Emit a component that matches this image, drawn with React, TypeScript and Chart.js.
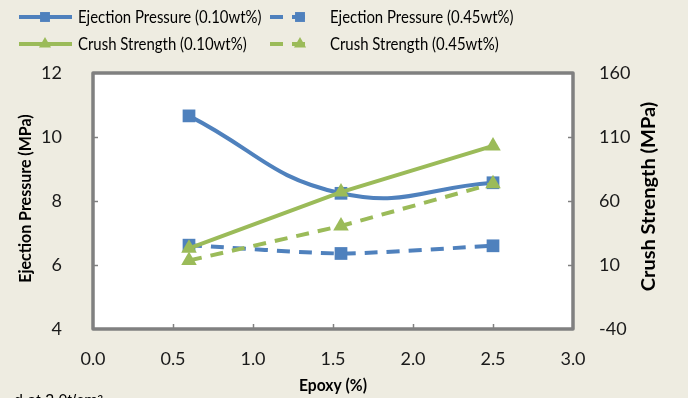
import React, { useEffect, useRef } from "react";
import { Chart, registerables } from "chart.js";

Chart.register(...registerables);

// ---- data ----
const epoxy = [0.6, 1.55, 2.5];
const ejection010 = [10.66, 8.24, 8.57];
const ejection045 = [6.62, 6.36, 6.6];
const crush010 = [23, 67, 103];
const crush045 = [13.5, 40.5, 73.5];
const seriesLabels = [
  "Ejection Pressure (0.10wt%)",
  "Ejection Pressure (0.45wt%)",
  "Crush Strength (0.10wt%)",
  "Crush Strength (0.45wt%)",
];
const xTitle = "Epoxy (%)";
const yLeftTitle = "Ejection Pressure (MPa)";
const yRightTitle = "Crush Strength (MPa)";
const footnote = "d at 2.0t/cm\u00b2";

const BLUE = "#4f81bd";
const GREEN = "#9bbb59";
const BG = "#eeece1";
const FONT = "Lato";

function pts(ys: number[]) {
  return epoxy.map((x, i) => ({ x, y: ys[i] }));
}

function drawText(
  ctx: CanvasRenderingContext2D,
  text: string,
  x: number,
  y: number,
  font: string,
  align: CanvasTextAlign,
  sx: number,
  rot = 0
) {
  ctx.save();
  ctx.translate(x, y);
  if (rot) ctx.rotate(rot);
  ctx.scale(sx, 1);
  ctx.font = font;
  ctx.fillStyle = "#000";
  ctx.textAlign = align;
  ctx.textBaseline = "middle";
  ctx.fillText(text, 0, 0);
  ctx.restore();
}

const decorPlugin = {
  id: "decor",
  beforeDraw(chart: any) {
    const { ctx, chartArea: a, width, height } = chart;
    ctx.save();
    ctx.fillStyle = BG;
    ctx.fillRect(0, 0, width, height);
    ctx.fillStyle = "#fff";
    ctx.fillRect(a.left, a.top, a.right - a.left, a.bottom - a.top);
    ctx.restore();
  },
  beforeDatasetsDraw(chart: any) {
    const { ctx, chartArea: a, scales } = chart;
    ctx.save();
    ctx.strokeStyle = "#808080";
    ctx.lineWidth = 1.5;
    const L = 5;
    scales.x.ticks.forEach((t: any) => {
      if (t.value <= 0 || t.value >= 3) return;
      const px = Math.round(scales.x.getPixelForValue(t.value)) + 0.5;
      ctx.beginPath();
      ctx.moveTo(px, a.bottom);
      ctx.lineTo(px, a.bottom - L);
      ctx.stroke();
    });
    scales.y.ticks.forEach((t: any) => {
      if (t.value <= 4 || t.value >= 12) return;
      const py = Math.round(scales.y.getPixelForValue(t.value)) + 0.5;
      ctx.beginPath();
      ctx.moveTo(a.left, py);
      ctx.lineTo(a.left + L, py);
      ctx.stroke();
    });
    scales.y1.ticks.forEach((t: any) => {
      if (t.value <= -40 || t.value >= 160) return;
      const py = Math.round(scales.y1.getPixelForValue(t.value)) + 0.5;
      ctx.beginPath();
      ctx.moveTo(a.right, py);
      ctx.lineTo(a.right - L, py);
      ctx.stroke();
    });
    ctx.strokeStyle = "#808080";
    ctx.lineWidth = 3.5;
    ctx.lineJoin = "round";
    ctx.strokeRect(a.left, a.top, a.right - a.left, a.bottom - a.top);
    ctx.restore();
  },
  afterDraw(chart: any) {
    const { ctx, chartArea: a, data } = chart;
    const cx = (a.left + a.right) / 2;
    drawText(ctx, xTitle, cx, 386, `bold 17px ${FONT}`, "center", 0.92);
    drawText(ctx, yLeftTitle, 26, 198.5, `bold 17px ${FONT}`, "center", 0.94, -Math.PI / 2);
    drawText(ctx, yRightTitle, 649, 196.5, `bold 19px ${FONT}`, "center", 1.05, -Math.PI / 2);

    // legend
    const legFont = `18px ${FONT}`;
    const items = [
      { ds: data.datasets[0], x0: 19, x1: 72, mx: 45, tx: 78, y: 17 },
      { ds: data.datasets[1], x0: 270, x1: 312, mx: 300, tx: 330, y: 17 },
      { ds: data.datasets[2], x0: 19, x1: 72, mx: 45, tx: 78, y: 44 },
      { ds: data.datasets[3], x0: 270, x1: 312, mx: 300, tx: 330, y: 44 },
    ];
    items.forEach((it) => {
      const ds = it.ds;
      ctx.save();
      ctx.strokeStyle = ds.borderColor;
      ctx.lineWidth = ds.borderWidth;
      ctx.setLineDash(ds.borderDash || []);
      ctx.beginPath();
      ctx.moveTo(it.x0, it.y);
      ctx.lineTo(it.x1, it.y);
      ctx.stroke();
      ctx.setLineDash([]);
      ctx.fillStyle = ds.pointBackgroundColor;
      const r = 7;
      ctx.beginPath();
      if (ds.pointStyle === "rect") {
        const s = r * Math.SQRT1_2;
        ctx.rect(it.mx - s, it.y - s, 2 * s, 2 * s);
      } else {
        ctx.moveTo(it.mx, it.y - r);
        ctx.lineTo(it.mx + r * 0.866, it.y + r * 0.5);
        ctx.lineTo(it.mx - r * 0.866, it.y + r * 0.5);
        ctx.closePath();
      }
      ctx.fill();
      ctx.restore();
      drawText(ctx, ds.label, it.tx, it.y, legFont, "left", 0.83);
    });

    // clipped footnote
    ctx.save();
    ctx.font = `16px "Liberation Sans"`;
    ctx.fillStyle = "#000";
    ctx.textAlign = "left";
    ctx.textBaseline = "alphabetic";
    ctx.fillText(footnote, 14, 406);
    ctx.restore();
  },
};

export default function App() {
  const ref = useRef<HTMLCanvasElement | null>(null);
  useEffect(() => {
    document.body.style.margin = "0";
    const canvas = ref.current;
    if (!canvas) return;
    const tickFont = { family: FONT, size: 18 };
    const chart = new Chart(canvas, {
      type: "line",
      data: {
        datasets: [
          {
            label: seriesLabels[0],
            data: pts(ejection010),
            yAxisID: "y",
            borderColor: BLUE,
            backgroundColor: BLUE,
            pointBackgroundColor: BLUE,
            pointBorderColor: BLUE,
            borderWidth: 4,
            pointStyle: "rect",
            pointRadius: 9,
            pointBorderWidth: 0,
            tension: 0.45,
            order: 2,
          },
          {
            label: seriesLabels[1],
            data: pts(ejection045),
            yAxisID: "y",
            borderColor: BLUE,
            backgroundColor: BLUE,
            pointBackgroundColor: BLUE,
            pointBorderColor: BLUE,
            borderWidth: 4,
            borderDash: [13, 9],
            pointStyle: "rect",
            pointRadius: 9,
            pointBorderWidth: 0,
            tension: 0.2,
            order: 3,
          },
          {
            label: seriesLabels[2],
            data: pts(crush010),
            yAxisID: "y1",
            borderColor: GREEN,
            backgroundColor: GREEN,
            pointBackgroundColor: GREEN,
            pointBorderColor: GREEN,
            borderWidth: 4,
            pointStyle: "triangle",
            pointRadius: 9,
            pointBorderWidth: 0,
            tension: 0,
            order: 0,
          },
          {
            label: seriesLabels[3],
            data: pts(crush045),
            yAxisID: "y1",
            borderColor: GREEN,
            backgroundColor: GREEN,
            pointBackgroundColor: GREEN,
            pointBorderColor: GREEN,
            borderWidth: 4,
            borderDash: [13, 9],
            pointStyle: "triangle",
            pointRadius: 9,
            pointBorderWidth: 0,
            tension: 0,
            order: 1,
          },
        ],
      },
      options: {
        responsive: false,
        animation: false,
        devicePixelRatio: 1,
        layout: { padding: { top: 73, bottom: 0, left: 0, right: 0 } },
        plugins: {
          legend: { display: false },
          tooltip: { enabled: false },
        },
        scales: {
          x: {
            type: "linear",
            min: 0,
            max: 3,
            ticks: {
              stepSize: 0.5,
              font: tickFont,
              color: "#1a1a1a",
              padding: 11,
              maxRotation: 0,
              callback: (v: any) => Number(v).toFixed(1),
            },
            grid: { display: false },
            border: { display: false },
            afterFit: (s: any) => {
              s.height = 69;
            },
          },
          y: {
            position: "left",
            min: 4,
            max: 12,
            ticks: { stepSize: 2, font: tickFont, color: "#1a1a1a", padding: 23 },
            grid: { display: false },
            border: { display: false },
            afterFit: (s: any) => {
              s.width = 93;
            },
          },
          y1: {
            position: "right",
            min: -40,
            max: 160,
            ticks: { stepSize: 50, font: tickFont, color: "#1a1a1a", padding: 18 },
            grid: { display: false },
            border: { display: false },
            afterFit: (s: any) => {
              s.width = 115;
            },
          },
        },
      },
      plugins: [decorPlugin],
    } as any);
    return () => chart.destroy();
  }, []);
  return (
    <div style={{ position: "fixed", left: 0, top: 0, width: 688, height: 398 }}>
      <canvas ref={ref} width={688} height={398} style={{ display: "block", width: 688, height: 398 }} />
    </div>
  );
}
